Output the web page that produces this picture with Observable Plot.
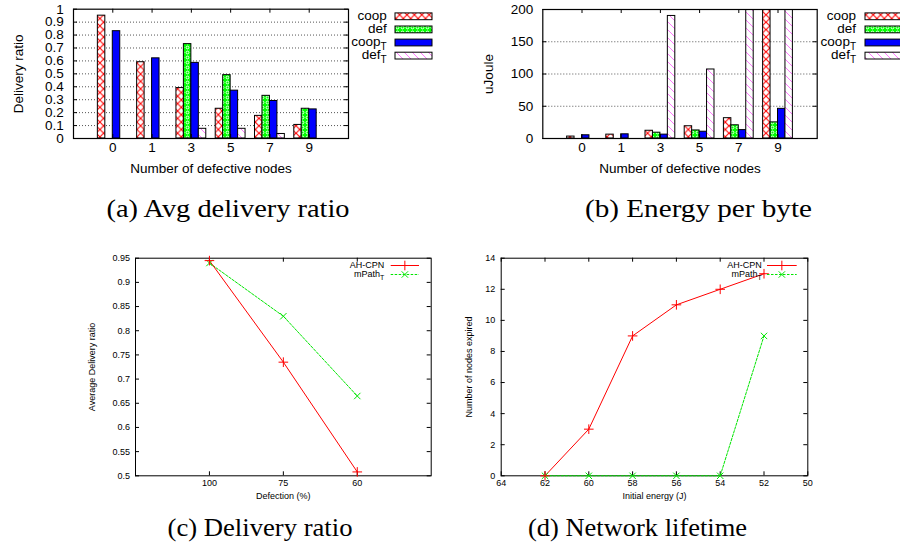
<!DOCTYPE html>
<html>
<head>
<meta charset="utf-8">
<script src="https://cdn.jsdelivr.net/npm/d3@7"></script>
<script src="https://cdn.jsdelivr.net/npm/@observablehq/plot@0.6"></script>
<style>
html, body { margin: 0; padding: 0; background: #fff; }
#root { position: relative; width: 900px; height: 545px; overflow: hidden; background: #fff; font-family: "Liberation Sans", Arial, sans-serif; }
</style>
</head>
<body>
<div id="root"></div>
<script>
// ---------- data ----------
const categories = ["0", "1", "3", "5", "7", "9"];
const series = ["coop", "def", "coopT", "defT"];
const seriesLabels = [["coop", ""], ["def", ""], ["coop", "T"], ["def", "T"]];

const ratioCoop  = [0.95, 0.59, 0.39, 0.23, 0.175, 0.105];
const ratioDef   = [0, 0, 0.73, 0.49, 0.33, 0.23];
const ratioCoopT = [0.83, 0.62, 0.585, 0.37, 0.29, 0.225];
const ratioDefT  = [0, 0, 0.075, 0.075, 0.035, 0];

const energyCoop  = [3, 6, 12, 19, 31.5, 260];
const energyDef   = [0, 0, 9, 12.5, 20.5, 25];
const energyCoopT = [5, 6.5, 6, 10.5, 13, 46];
const energyDefT  = [0, 0, 190, 107, 300, 320];

const ratioTicks  = [0, 0.1, 0.2, 0.3, 0.4, 0.5, 0.6, 0.7, 0.8, 0.9, 1];
const energyTicks = [0, 50, 100, 150, 200];

const defection = ["100", "75", "60"];
const dcAH    = [0.945, 0.735, 0.508];
const dcMPath = [0.94, 0.83, 0.665];
const dcTicks = [0.5, 0.55, 0.6, 0.65, 0.7, 0.75, 0.8, 0.85, 0.9, 0.95];

const initEnergy = [62, 60, 58, 56, 54, 52];
const expAH      = [0, 3, 9, 11, 12, 13];
const expMPath   = [0, 0, 0, 0, 0, 9];
const lifeXTicks = [64, 62, 60, 58, 56, 54, 52, 50];
const lifeYTicks = [0, 2, 4, 6, 8, 10, 12, 14];

const lineLabels = [["AH-CPN", ""], ["mPath", "T"]];
const captions = ["(a) Avg delivery ratio", "(b) Energy per byte", "(c) Delivery ratio", "(d) Network lifetime"];

// ---------- styles ----------
const RED = "#ff0000", GREEN = "#00e600";
const fills = { coop: "url(#p-coop)", def: "url(#p-def)", coopT: "#0000ff", defT: "url(#p-defT)" };
const root = document.getElementById("root");
const SANS = "Liberation Sans, Arial, sans-serif";
const PLUS_R = 3.2, TIMES_R = 3.0;

function place(el, left, top) {
  el.style.position = "absolute";
  el.style.left = left + "px";
  el.style.top = top + "px";
  root.appendChild(el);
}

// inward tick marks on all sides
function frameTicks(xt, yt, fw, fh, len) {
  return [
    Plot.tickX(xt, { x: d => d, insetBottom: fh - len, stroke: "#000" }),
    Plot.tickX(xt, { x: d => d, insetTop: fh - len, stroke: "#000" }),
    Plot.tickY(yt, { y: d => d, insetRight: fw - len, stroke: "#000" }),
    Plot.tickY(yt, { y: d => d, insetLeft: fw - len, stroke: "#000" })
  ];
}

// ---------- bar charts ----------
const barW = 0.19;
function barChart(cols, opts) {
  const { width, height, mL, mR, mT, mB, yDomain, yTicks, yFmt, yLabel, yLabelDx, yTickDx } = opts;
  const fw = width - mL - mR, fh = height - mT - mB;
  const xt = categories.map((c, i) => i);
  const barMarks = series.map((s, j) =>
    Plot.rectY(cols[j].map((v, i) => ({ i, v })), {
      x1: d => d.i + (j - 2) * barW,
      x2: d => d.i + (j - 1) * barW,
      y1: 0, y2: d => d.v,
      fill: fills[s], stroke: "#000", strokeWidth: 1, clip: true
    })
  );
  return Plot.plot({
    width, height, marginLeft: mL, marginRight: mR, marginTop: mT, marginBottom: mB,
    style: { background: "transparent", fontFamily: SANS, fontSize: "13.5px", overflow: "visible" },
    x: { domain: [-1, 6], axis: null },
    y: { domain: yDomain, axis: null },
    marks: [
      Plot.gridY(yTicks.slice(1, -1), { stroke: "#555", strokeOpacity: 1, strokeDasharray: "1,2", strokeWidth: 1 }),
      ...barMarks,
      ...frameTicks(xt, yTicks, fw, fh, 4),
      Plot.frame({ stroke: "#000", strokeWidth: 1.2 }),
      Plot.text(xt, { x: d => d, text: d => categories[d], frameAnchor: "bottom", dy: 13.7, fontSize: 13.5 }),
      Plot.text(yTicks, { y: d => d, text: yFmt, frameAnchor: "left", textAnchor: "end", dx: yTickDx, fontSize: 13.5 }),
      Plot.text(["Number of defective nodes"], { text: d => d, frameAnchor: "bottom", textAnchor: "middle", dy: 34.5, fontSize: 13.5 }),
      Plot.text([yLabel], { text: d => d, frameAnchor: "left", textAnchor: "middle", dx: yLabelDx, rotate: -90, fontSize: 13.5 })
    ]
  });
}

const chartA = barChart([ratioCoop, ratioDef, ratioCoopT, ratioDefT], {
  width: 355, height: 185, mL: 73, mR: 7, mT: 8.7, mB: 47,
  yDomain: [0, 1], yTicks: ratioTicks,
  yFmt: d => (d === 0 ? "0" : d === 1 ? "1" : d.toFixed(1)),
  yLabel: "Delivery ratio", yLabelDx: -54.7, yTickDx: -9.7
});
place(chartA, 0, 0);

const chartB = barChart([energyCoop, energyDef, energyCoopT, energyDefT], {
  width: 352, height: 185, mL: 72.3, mR: 5.3, mT: 9, mB: 47,
  yDomain: [0, 200], yTicks: energyTicks,
  yFmt: d => String(d),
  yLabel: "uJoule", yLabelDx: -54.3, yTickDx: -9.5
});
place(chartB, 470, 0);

// ---------- line charts ----------
const dcData = defection.map((d, i) => ({ i, ah: dcAH[i], mp: dcMPath[i] }));
const fwC = 400 - 95 - 9.3, fhC = 268 - 9.7 - 40.7;
const chartC = Plot.plot({
  width: 400, height: 268, marginLeft: 95, marginRight: 9.3, marginTop: 9.7, marginBottom: 40.7,
  style: { background: "transparent", fontFamily: SANS, fontSize: "9px", overflow: "visible" },
  x: { domain: [-1, 3], axis: null },
  y: { domain: [0.5, 0.95], axis: null },
  marks: [
    ...frameTicks([0, 1, 2], dcTicks, fwC, fhC, 4),
    Plot.frame({ stroke: "#000", strokeWidth: 1 }),
    Plot.line(dcData, { x: "i", y: "mp", stroke: GREEN, strokeWidth: 1, strokeDasharray: "2.5,1.5" }),
    Plot.line(dcData, { x: "i", y: "ah", stroke: RED, strokeWidth: 1 }),
    Plot.dot(dcData, { x: "i", y: "mp", symbol: "times", r: TIMES_R, stroke: GREEN, strokeWidth: 1 }),
    Plot.dot(dcData, { x: "i", y: "ah", symbol: "plus", r: PLUS_R, stroke: RED, strokeWidth: 1 }),
    Plot.text([0, 1, 2], { x: d => d, text: d => defection[d], frameAnchor: "bottom", dy: 9.7, fontSize: 9 }),
    Plot.text(dcTicks, { y: d => d, text: d => String(+d.toFixed(2)), frameAnchor: "left", textAnchor: "end", dx: -5.5, fontSize: 9 }),
    Plot.text(["Defection (%)"], { text: d => d, frameAnchor: "bottom", textAnchor: "middle", dy: 23, fontSize: 9 }),
    Plot.text(["Average Delivery ratio"], { text: d => d, frameAnchor: "left", textAnchor: "middle", dx: -43.3, rotate: -90, fontSize: 9 })
  ]
});
place(chartC, 40, 248);

const lifeData = initEnergy.map((e, i) => ({ e, ah: expAH[i], mp: expMPath[i] }));
const fwD = 370 - 50.7 - 12.7, fhD = 268 - 9.7 - 40.7;
const chartD = Plot.plot({
  width: 370, height: 268, marginLeft: 50.7, marginRight: 12.7, marginTop: 9.7, marginBottom: 40.7,
  style: { background: "transparent", fontFamily: SANS, fontSize: "9px", overflow: "visible" },
  x: { domain: [64, 50], axis: null },
  y: { domain: [0, 14], axis: null },
  marks: [
    ...frameTicks(lifeXTicks, lifeYTicks, fwD, fhD, 4),
    Plot.frame({ stroke: "#000", strokeWidth: 1 }),
    Plot.line(lifeData, { x: "e", y: "mp", stroke: GREEN, strokeWidth: 1, strokeDasharray: "2.5,1.5" }),
    Plot.line(lifeData, { x: "e", y: "ah", stroke: RED, strokeWidth: 1 }),
    Plot.dot(lifeData, { x: "e", y: "mp", symbol: "times", r: TIMES_R, stroke: GREEN, strokeWidth: 1 }),
    Plot.dot(lifeData, { x: "e", y: "ah", symbol: "plus", r: PLUS_R, stroke: RED, strokeWidth: 1 }),
    Plot.text(lifeXTicks, { x: d => d, text: d => String(d), frameAnchor: "bottom", dy: 9.7, fontSize: 9 }),
    Plot.text(lifeYTicks, { y: d => d, text: d => String(d), frameAnchor: "left", textAnchor: "end", dx: -6, fontSize: 9 }),
    Plot.text(["Initial energy (J)"], { text: d => d, frameAnchor: "bottom", textAnchor: "middle", dy: 23, fontSize: 9 }),
    Plot.text(["Number of nodes expired"], { text: d => d, frameAnchor: "left", textAnchor: "middle", dx: -32.4, rotate: -90, fontSize: 9 })
  ]
});
place(chartD, 450, 248);

// ---------- overlay: patterns, legends, captions ----------
const ov = d3.create("svg").attr("width", 900).attr("height", 545)
  .style("position", "absolute").style("left", "0px").style("top", "0px").style("pointer-events", "none");
const defs = ov.append("defs");
const pc = defs.append("pattern").attr("id", "p-coop").attr("patternUnits", "userSpaceOnUse").attr("width", 7.4).attr("height", 7.4);
pc.append("rect").attr("width", 7.4).attr("height", 7.4).attr("fill", "#fff");
pc.append("path").attr("d", "M0,0L7.4,7.4M7.4,0L0,7.4").attr("stroke", RED).attr("stroke-width", 1.1);
const pd = defs.append("pattern").attr("id", "p-def").attr("patternUnits", "userSpaceOnUse").attr("width", 5).attr("height", 5);
pd.append("rect").attr("width", 5).attr("height", 5).attr("fill", "#00ff00");
pd.append("circle").attr("cx", 2.5).attr("cy", 2.5).attr("r", 1.4).attr("fill", "none").attr("stroke", "#fff").attr("stroke-width", 0.9);
const pt = defs.append("pattern").attr("id", "p-defT").attr("patternUnits", "userSpaceOnUse").attr("width", 8).attr("height", 8);
pt.append("rect").attr("width", 8).attr("height", 8).attr("fill", "#fff");
pt.append("path").attr("d", "M0,0L8,8").attr("stroke", "#ff55ff").attr("stroke-width", 0.8);

function labelText(g, x, y, parts, size, subSize, subDy) {
  const t = g.append("text").attr("x", x).attr("y", y).attr("text-anchor", "end")
    .attr("font-family", SANS).attr("font-size", size).attr("fill", "#000");
  t.append("tspan").text(parts[0]);
  if (parts[1]) t.append("tspan").attr("font-size", subSize).attr("dy", subDy).text(parts[1]);
}

const barRows = [16.3, 29.4, 42.5, 55.6];
function barLegend(textRight, boxLeft) {
  const g = ov.append("g");
  series.forEach((s, k) => {
    const y = barRows[k];
    labelText(g, textRight, y + 3.5, seriesLabels[k], 13.5, 10, 4);
    g.append("rect").attr("x", boxLeft).attr("y", y - 3.4).attr("width", 37).attr("height", 6.8)
      .attr("fill", fills[s]).attr("stroke", "#000").attr("stroke-width", 1);
  });
}
barLegend(386.7, 395);
barLegend(856, 865);

const lineRows = [265.5, 274.5];
function lineLegend(textRight, x1, x2) {
  const g = ov.append("g");
  const styles = [
    { stroke: RED, dash: null, sym: d3.symbolPlus, r: PLUS_R },
    { stroke: GREEN, dash: "2.5,1.5", sym: d3.symbolTimes, r: TIMES_R }
  ];
  styles.forEach((st, k) => {
    const y = lineRows[k];
    labelText(g, textRight, y + 2.6, lineLabels[k], 9, 7, 3);
    g.append("line").attr("x1", x1).attr("x2", x2).attr("y1", y).attr("y2", y)
      .attr("stroke", st.stroke).attr("stroke-width", 1).attr("stroke-dasharray", st.dash);
    g.append("path").attr("transform", `translate(${(x1 + x2) / 2},${y})`)
      .attr("d", d3.symbol(st.sym, Math.PI * st.r * st.r)())
      .attr("fill", "none").attr("stroke", st.stroke).attr("stroke-width", 1);
  });
}
lineLegend(384.3, 390.7, 419);
lineLegend(761.7, 767, 796.7);

const capPos = [
  { x: 106.5, w: 243, y: 217.3 },
  { x: 585, w: 227, y: 217.3 },
  { x: 167.5, w: 185, y: 535.6 },
  { x: 528, w: 219, y: 535.6 }
];
captions.forEach((c, k) => {
  const p = capPos[k];
  ov.append("text").attr("x", p.x).attr("y", p.y).attr("font-family", "Liberation Serif, DejaVu Serif, serif")
    .attr("font-size", 25).attr("fill", "#000").attr("textLength", p.w).attr("lengthAdjust", "spacingAndGlyphs").text(c);
});

root.appendChild(ov.node());
</script>
</body>
</html>
